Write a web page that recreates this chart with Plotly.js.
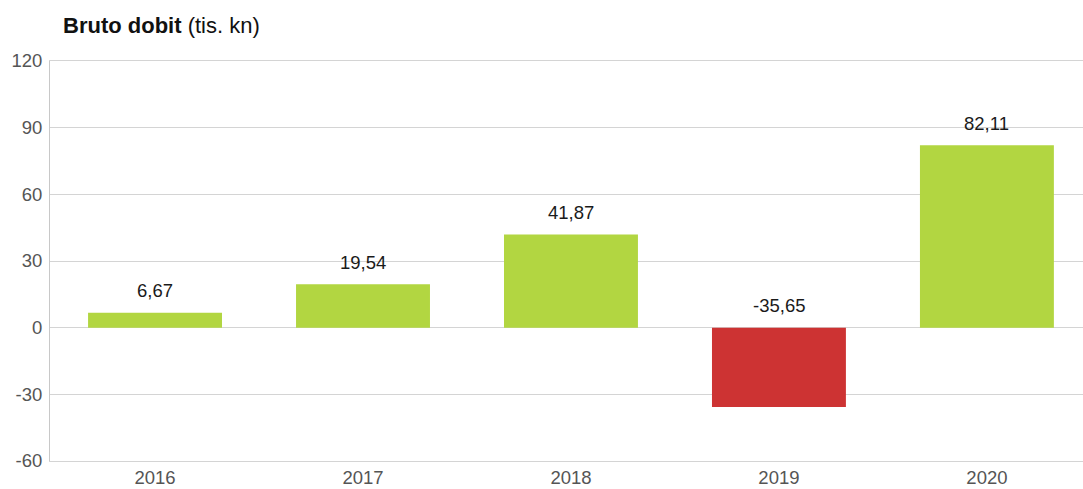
<!DOCTYPE html>
<html><head><meta charset="utf-8">
<script src="https://cdn.plot.ly/plotly-3.0.1.min.js"></script>
<style>html,body{margin:0;padding:0;background:#fff}#c{width:1083px;height:489px}</style>
</head><body><div id="c"></div>
<script>
const years = ['2016','2017','2018','2019','2020'];
const values = [6.67, 19.54, 41.87, -35.65, 82.11];
const yTicks = [-60, -30, 0, 30, 60, 90, 120];

const colors = values.map(v => v >= 0 ? '#b2d641' : '#cd3333');
const fmt = v => v.toFixed(2).replace('.', ',');
const FONT = 'Liberation Sans, Arial, sans-serif';

const trace = {
  type: 'bar', x: years, y: values, width: 0.644,
  marker: {color: colors}, hoverinfo: 'none', cliponaxis: false
};

const annotations = years.map((yr, i) => ({
  x: i, y: Math.max(values[i], 0), xref: 'x', yref: 'y',
  text: fmt(values[i]), showarrow: false, yshift: 22,
  xanchor: 'center', yanchor: 'middle',
  font: {family: FONT, size: 18.5, color: '#1a1a1a'}
}));

const layout = {
  width: 1083, height: 489,
  margin: {l: 50, r: 0, t: 61, b: 28},
  paper_bgcolor: '#fff', plot_bgcolor: '#fff',
  showlegend: false,
  separators: ', ',
  title: {
    text: '<b>Bruto dobit</b> (tis. kn)',
    xref: 'container', yref: 'container',
    x: 63/1083, xanchor: 'left', y: 1 - 25/489, yanchor: 'middle',
    font: {family: FONT, size: 22, color: '#111'}
  },
  xaxis: {
    type: 'category', range: [-0.505, 4.462],
    showgrid: false, zeroline: false,
    showline: true, mirror: true, linecolor: '#d4d4d4', linewidth: 1,
    ticks: '', ticklabelstandoff: 0,
    tickfont: {family: FONT, size: 18.5, color: '#555'},
    fixedrange: true
  },
  yaxis: {
    range: [-60, 120], tickvals: yTicks, ticktext: yTicks.map(String),
    showgrid: true, gridcolor: '#d4d4d4', gridwidth: 1,
    zeroline: true, zerolinecolor: '#d4d4d4', zerolinewidth: 1,
    showline: true, linecolor: '#c8c8c8', linewidth: 1,
    ticks: '', ticklabelstandoff: 3,
    tickfont: {family: FONT, size: 18.5, color: '#555'},
    fixedrange: true
  },
  annotations: annotations
};

Plotly.newPlot('c', [trace], layout, {displayModeBar: false});
</script></body></html>
